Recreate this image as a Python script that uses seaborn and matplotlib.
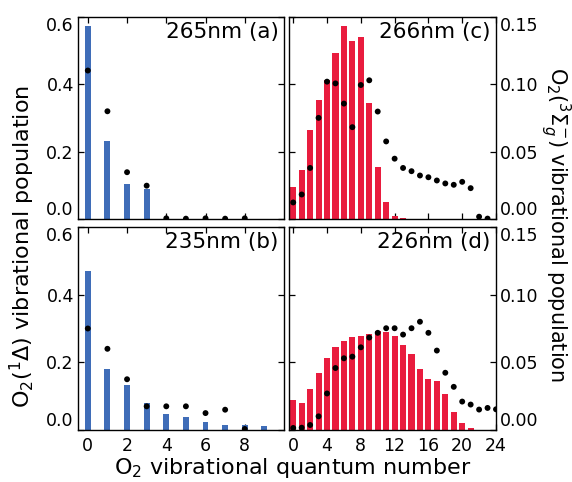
import numpy as np
import pandas as pd
import matplotlib
matplotlib.use("Agg")
import matplotlib.pyplot as plt
import seaborn as sns

# ---------------- data ----------------
# (a) 265 nm, O2(1Delta)
a_bar_v = [0, 1, 2, 3]
a_bar_y = [0.573, 0.232, 0.104, 0.089]
a_dot_v = [0, 1, 2, 3, 4, 5, 6, 7, 8]
a_dot_y = [0.441, 0.320, 0.139, 0.099, 0.002, 0.001, 0.002, 0.001, 0.002]

# (b) 235 nm, O2(1Delta)
b_bar_v = [0, 1, 2, 3, 4, 5, 6, 7, 8, 9]
b_bar_y = [0.470, 0.180, 0.133, 0.080, 0.047, 0.0385, 0.024, 0.015, 0.015, 0.011]
b_dot_v = [0, 1, 2, 3, 4, 5, 6, 7, 8]
b_dot_y = [0.300, 0.240, 0.150, 0.070, 0.070, 0.070, 0.050, 0.060, 0.003]

# (c) 266 nm, O2(3Sigma_g-)
c_bar_v = [0, 1, 2, 3, 4, 5, 6, 7, 8, 9, 10, 11, 12, 13]
c_bar_y = [0.0236, 0.0362, 0.0658, 0.0887, 0.103, 0.1234, 0.1433, 0.1323,
           0.1352, 0.0862, 0.0384, 0.0128, 0.0022, 0.0004]
c_dot_v = list(range(24))
c_dot_y = [0.0123, 0.0182, 0.0379, 0.0751, 0.102, 0.1007, 0.0857, 0.0682,
           0.0995, 0.103, 0.0798, 0.0576, 0.0448, 0.0379, 0.0355, 0.0323,
           0.031, 0.0286, 0.0264, 0.0254, 0.0276, 0.0229, 0.0017, 0.0003]

# (d) 226 nm, O2(3Sigma_g-)
d_bar_v = list(range(24))
d_bar_y = [0.0225, 0.0203, 0.030, 0.0418, 0.0532, 0.0611, 0.0656, 0.0686,
           0.0693, 0.0708, 0.0728, 0.0723, 0.0693, 0.0626, 0.0559, 0.0448,
           0.0374, 0.0359, 0.0265, 0.0136, 0.0054, 0.0017, 0.0003, 0.0002]
d_dot_v = list(range(25))
d_dot_y = [0.0015, 0.0017, 0.0037, 0.0101, 0.027, 0.0458, 0.053, 0.0542,
           0.0611, 0.0683, 0.0718, 0.0752, 0.0752, 0.0705, 0.0752, 0.080,
           0.0718, 0.0587, 0.0423, 0.0319, 0.021, 0.0188, 0.0151, 0.0163,
           0.0153]

titles = ["265nm (a)", "235nm (b)", "266nm (c)", "226nm (d)"]
left_yticks = [0.0, 0.2, 0.4, 0.6]
right_yticks = [0.00, 0.05, 0.10, 0.15]
left_xticks = [0, 2, 4, 6, 8]
right_xticks = [0, 4, 8, 12, 16, 20, 24]

BLUE = "#3F6DB8"
RED = "#E91C3E"

# ---------------- figure ----------------
sns.set_style("ticks")
plt.rcParams["font.family"] = ["DejaVu Sans"]
plt.rcParams["mathtext.fontset"] = "dejavusans"
for k in ["text.color", "axes.labelcolor", "xtick.color", "ytick.color",
          "axes.edgecolor"]:
    plt.rcParams[k] = "black"

W, H = 572, 482
fig = plt.figure(figsize=(W / 100, H / 100), dpi=100)


def box(x0, y0, x1, y1):
    return [x0 / W, 1 - y1 / H, (x1 - x0) / W, (y1 - y0) / H]


ax_a = fig.add_axes(box(78, 17, 284, 219))
ax_b = fig.add_axes(box(78, 227, 284, 430))
ax_c = fig.add_axes(box(289, 17, 496, 219))
ax_d = fig.add_axes(box(289, 227, 496, 430))

panels = [
    (ax_a, a_bar_v, a_bar_y, a_dot_v, a_dot_y, BLUE, 0.3, "left", titles[0], False),
    (ax_b, b_bar_v, b_bar_y, b_dot_v, b_dot_y, BLUE, 0.3, "left", titles[1], True),
    (ax_c, c_bar_v, c_bar_y, c_dot_v, c_dot_y, RED, 0.72, "right", titles[2], False),
    (ax_d, d_bar_v, d_bar_y, d_dot_v, d_dot_y, RED, 0.72, "right", titles[3], True),
]

for ax, bv, by, dv, dy, col, width, side, title, bottom in panels:
    bars = pd.DataFrame({"v": bv, "p": by})
    dots = pd.DataFrame({"v": dv, "p": dy})
    sns.barplot(data=bars, x="v", y="p", native_scale=True, width=width,
                color=col, saturation=1, errorbar=None, linewidth=0, ax=ax)
    sns.scatterplot(data=dots, x="v", y="p", color="black", s=18,
                    edgecolor="none", ax=ax, zorder=5, clip_on=True)
    if side == "left":
        ax.set_xlim(-0.5, 10)
        ax.set_ylim(0, 0.6)
        ax.set_yticks(left_yticks)
        ax.set_yticklabels([f"{t:.1f}" for t in left_yticks])
        ax.set_xticks(left_xticks)
        ax.tick_params(axis="y", labelleft=True, labelright=False)
        ylabels = ax.get_yticklabels()
    else:
        ax.set_xlim(-0.5, 24)
        ax.set_ylim(0, 0.15)
        ax.set_yticks(right_yticks)
        ax.set_yticklabels([f"{t:.2f}" for t in right_yticks])
        ax.set_xticks(right_xticks)
        ax.tick_params(axis="y", labelleft=False, labelright=True)
        ylabels = [t.label2 for t in ax.yaxis.get_major_ticks()]
    ax.set_xticklabels([str(t) for t in ax.get_xticks().astype(int)])
    ax.tick_params(axis="both", direction="in", top=True, bottom=True,
                   left=True, right=True, length=4, width=0.9,
                   labelsize=12.5, pad=3)
    ax.tick_params(axis="x", labelbottom=bottom, pad=5)
    # keep end labels inside the axes span, as in the reference
    ylabels[0].set_va("bottom")
    ylabels[-1].set_va("top")
    for s in ax.spines.values():
        s.set_visible(True)
        s.set_color("black")
        s.set_linewidth(1.0)
    ax.set_xlabel("")
    ax.set_ylabel("")
    ax.text(0.975, 0.975, title, transform=ax.transAxes, ha="right",
            va="top", fontsize=15.5)

fig.text(22 / W, 1 - 247 / H, r"O$_2$($^1\Delta$) vibrational population",
         rotation=90, ha="center", va="center", fontsize=16)
fig.text(555 / W, 1 - 225 / H,
         r"O$_2$($^3\Sigma_g^{-}$) vibrational population",
         rotation=270, ha="center", va="center", fontsize=15)
fig.text(293 / W, 1 - 468 / H, r"O$_2$ vibrational quantum number",
         ha="center", va="center", fontsize=16)

fig.savefig("out.png", dpi=100)
